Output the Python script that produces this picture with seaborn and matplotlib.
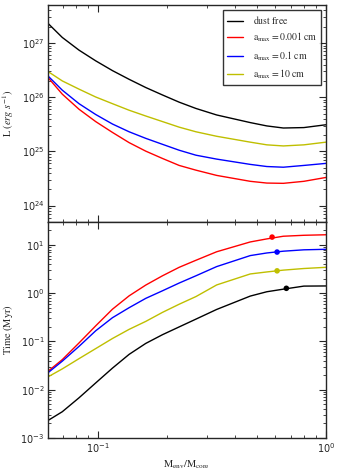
import numpy as np
import pandas as pd
import matplotlib
matplotlib.use("Agg")
import matplotlib.pyplot as plt
import seaborn as sns

# M_env / M_core sample points
mass_ratio = [0.06, 0.0694, 0.0822, 0.0973, 0.1153, 0.1365, 0.1615, 0.1913,
              0.2265, 0.2684, 0.331, 0.465, 0.55, 0.65, 0.8, 1.0]

# luminosity (erg/s)
L_dustfree = [2.32e27, 1.27e27, 7.4e26, 4.7e26, 3.1e26, 2.14e26, 1.51e26, 1.10e26,
              8.1e25, 6.2e25, 4.7e25, 3.4e25, 2.95e25, 2.7e25, 2.75e25, 3.1e25]
L_a0001 = [2.32e26, 1.14e26, 6.0e25, 3.55e25, 2.24e25, 1.45e25, 1.01e25, 7.4e24,
           5.5e24, 4.5e24, 3.6e24, 2.8e24, 2.6e24, 2.57e24, 2.8e24, 3.3e24]
L_a01 = [2.48e26, 1.35e26, 7.6e25, 4.8e25, 3.2e25, 2.3e25, 1.74e25, 1.35e25,
         1.05e25, 8.5e24, 7.2e24, 5.75e24, 5.25e24, 5.1e24, 5.5e24, 6.0e24]
L_a10 = [2.99e26, 2.0e26, 1.41e26, 1.01e26, 7.6e25, 5.75e25, 4.5e25, 3.55e25,
         2.8e25, 2.3e25, 1.9e25, 1.48e25, 1.32e25, 1.26e25, 1.32e25, 1.48e25]

# time (Myr)
t_dustfree = [0.0023, 0.0035, 0.0068, 0.0138, 0.028, 0.054, 0.091, 0.138,
              0.20, 0.29, 0.46, 0.87, 1.07, 1.21, 1.40, 1.41]
t_a0001 = [0.024, 0.042, 0.093, 0.21, 0.465, 0.88, 1.47, 2.29,
           3.43, 4.8, 7.2, 11.5, 13.3, 15.1, 15.8, 16.2]
t_a01 = [0.0224, 0.039, 0.079, 0.166, 0.31, 0.50, 0.78, 1.12,
         1.62, 2.29, 3.55, 6.0, 6.8, 7.4, 7.9, 8.1]
t_a10 = [0.0184, 0.027, 0.044, 0.071, 0.115, 0.178, 0.26, 0.40,
         0.59, 0.85, 1.48, 2.5, 2.75, 3.0, 3.24, 3.43]

# dots on the time curves
dot_x = [0.67, 0.58, 0.61, 0.61]
dot_t = [1.26, 14.5, 7.1, 2.9]

labels = [r"$\rm dust\ free$", r"$\rm a_{max} = 0.001\ cm$",
          r"$\rm a_{max} = 0.1\ cm$", r"$\rm a_{max} = 10\ cm$"]
colors = ["black", "red", "blue", "#bfbf00"]

sns.set_style("ticks")
plt.rcParams["mathtext.fontset"] = "stix"
plt.rcParams["font.family"] = ["DejaVu Sans"]

rows = []
for lab, L, t in zip(labels, [L_dustfree, L_a0001, L_a01, L_a10],
                     [t_dustfree, t_a0001, t_a01, t_a10]):
    for x, l, tt in zip(mass_ratio, L, t):
        rows.append({"case": lab, "x": x, "L": l, "t": tt})
df = pd.DataFrame(rows)
dots = pd.DataFrame({"case": labels, "x": dot_x, "t": dot_t})
pal = dict(zip(labels, colors))

fig = plt.figure(figsize=(3.42, 4.72), dpi=100)
ax1 = fig.add_axes([0.140, 0.530, 0.813, 0.459])
ax2 = fig.add_axes([0.140, 0.072, 0.813, 0.458], sharex=ax1)

sns.lineplot(data=df, x="x", y="L", hue="case", palette=pal, hue_order=labels,
             ax=ax1, linewidth=1.0, sort=False)
sns.lineplot(data=df, x="x", y="t", hue="case", palette=pal, hue_order=labels,
             ax=ax2, linewidth=1.0, sort=False, legend=False)
sns.scatterplot(data=dots, x="x", y="t", hue="case", palette=pal, hue_order=labels,
                ax=ax2, s=16, edgecolor="none", legend=False, zorder=5)

for ax in (ax1, ax2):
    ax.set_xscale("log")
    ax.set_yscale("log")
    ax.set_xlim(0.06, 1.0)
    ax.tick_params(which="both", direction="in", top=True, right=True, labelsize=7)
    ax.tick_params(which="major", length=5, width=0.8, pad=2.5)
    ax.tick_params(which="minor", length=2.5, width=0.6)
    for s in ax.spines.values():
        s.set_linewidth(1.0)

ax1.set_ylim(5e23, 5e27)
ax2.set_ylim(1e-3, 30)
ax1.tick_params(labelbottom=False)
ax1.set_xlabel("")
ax1.set_ylabel(r"$\rm L\ (\it erg\ s^{-1}\rm)$", fontsize=7.5, labelpad=4)
ax2.set_ylabel(r"$\rm Time\ (Myr)$", fontsize=7.5, labelpad=4)
ax2.set_xlabel(r"$\rm M_{env}/M_{core}$", fontsize=7.5, labelpad=2)

leg = ax1.legend(loc="upper right", fontsize=7, frameon=True, fancybox=False,
                 borderaxespad=0.5, handlelength=1.6, handletextpad=1.0)
leg.get_frame().set_edgecolor("black")
leg.get_frame().set_linewidth(1.0)
leg.set_title(None)

fig.savefig("out.png", dpi=100)
